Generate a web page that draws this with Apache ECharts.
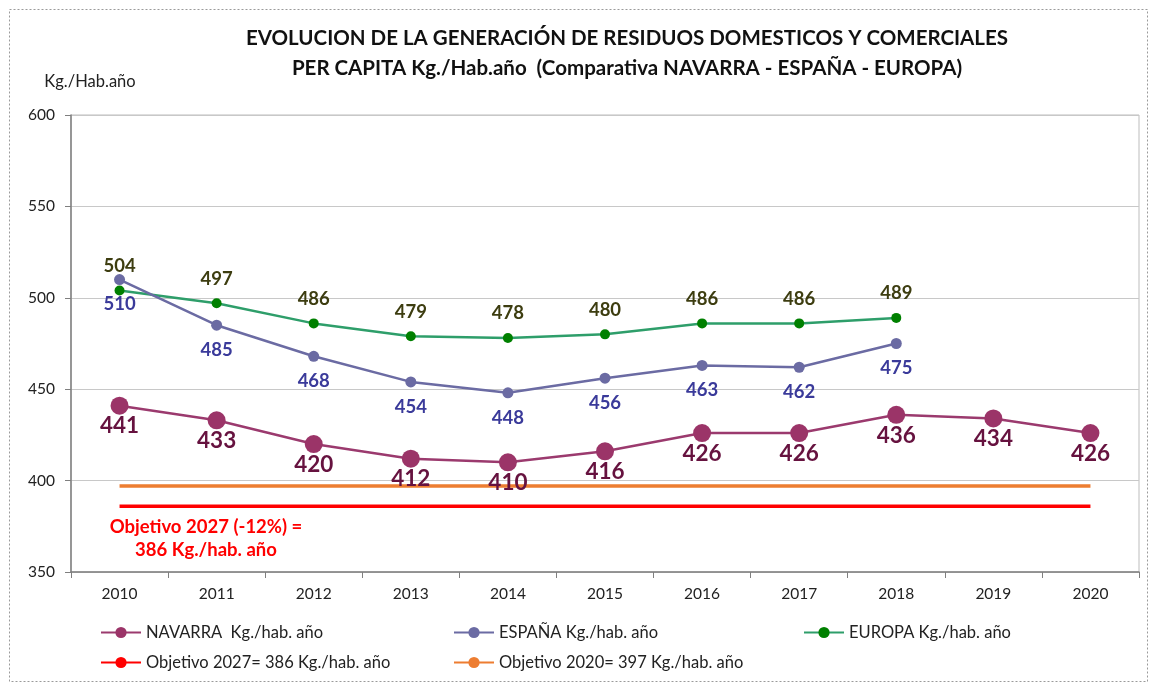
<!DOCTYPE html>
<html><head><meta charset="utf-8">
<script src="https://cdn.jsdelivr.net/npm/echarts@6/dist/echarts.min.js"></script>
<style>html,body{margin:0;padding:0;background:#fff}#c{width:1152px;height:684px}</style>
</head><body><div id="c"></div>
<script>
const years = ['2010','2011','2012','2013','2014','2015','2016','2017','2018','2019','2020'];
const navarra = [441, 433, 420, 412, 410, 416, 426, 426, 436, 434, 426];
const espana = [510, 485, 468, 454, 448, 456, 463, 462, 475];
const europa = [504, 497, 486, 479, 478, 480, 486, 486, 489];
const obj2027 = [386, 386, 386, 386, 386, 386, 386, 386, 386, 386, 386];
const obj2020 = [397, 397, 397, 397, 397, 397, 397, 397, 397, 397, 397];
const names = ['NAVARRA  Kg./hab. año','ESPAÑA Kg./hab. año','EUROPA Kg./hab. año','Objetivo 2027= 386 Kg./hab. año','Objetivo 2020= 397 Kg./hab. año'];

const FONT = 'Lato, "Open Sans", sans-serif';
const chart = echarts.init(document.getElementById('c'));
const legendBase = {itemWidth: 40, itemHeight: 14, textStyle: {fontFamily: FONT, fontSize: 16.5, color: '#222'}, selectedMode: false, padding: 0, itemGap: 0};
chart.setOption({
  animation: false,
  title: {
    text: 'EVOLUCION DE LA GENERACIÓN DE RESIDUOS DOMESTICOS Y COMERCIALES\nPER CAPITA Kg./Hab.año  (Comparativa NAVARRA - ESPAÑA - EUROPA)',
    left: 622, top: 18, textAlign: 'center',
    textStyle: {fontFamily: FONT, fontSize: 20.5, fontWeight: 'bold', color: '#111', lineHeight: 30}
  },
  grid: {left: 71, right: 13, top: 115, bottom: 112, show: true, borderColor: '#bdbdbd', borderWidth: 1, backgroundColor: '#fff'},
  legend: [
    Object.assign({data: [names[0]], left: 100, top: 624}, legendBase),
    Object.assign({data: [names[1]], left: 453, top: 624}, legendBase),
    Object.assign({data: [names[2]], left: 803, top: 624}, legendBase),
    Object.assign({data: [names[3]], left: 100, top: 654}, legendBase),
    Object.assign({data: [names[4]], left: 453, top: 654}, legendBase)
  ],
  xAxis: {
    type: 'category', data: years, boundaryGap: true,
    axisLine: {lineStyle: {color: '#7f7f7f', width: 1.5}},
    axisTick: {show: true, inside: false, length: 6, lineStyle: {color: '#7f7f7f'}},
    axisLabel: {fontFamily: FONT, fontSize: 15.5, color: '#222', margin: 14},
    splitLine: {show: false}
  },
  yAxis: {
    type: 'value', min: 350, max: 600, interval: 50,
    name: 'Kg./Hab.año', nameLocation: 'end', nameGap: 25,
    nameTextStyle: {fontFamily: FONT, fontSize: 16.5, color: '#222', align: 'center', padding: [0, 0, 0, 38]},
    axisLine: {show: true, lineStyle: {color: '#7f7f7f', width: 1.5}},
    axisTick: {show: true, length: 6, lineStyle: {color: '#7f7f7f'}},
    axisLabel: {fontFamily: FONT, fontSize: 15.5, color: '#222', margin: 16},
    splitLine: {lineStyle: {color: '#c8c8c8', width: 1}}
  },
  series: [
    {
      name: names[0], type: 'line', data: navarra, symbol: 'circle', symbolSize: 18,
      lineStyle: {color: '#9b3a6e', width: 2.5}, itemStyle: {color: '#9b3468'},
      label: {show: true, position: 'bottom', distance: 0, fontFamily: FONT, fontSize: 22.5, fontWeight: 'bold', color: '#66123f'},
      z: 5
    },
    {
      name: names[1], type: 'line', data: espana, symbol: 'circle', symbolSize: 11,
      lineStyle: {color: '#6b6ba3', width: 2.5}, itemStyle: {color: '#6b6ba3'},
      label: {show: true, position: 'bottom', distance: 10, fontFamily: FONT, fontSize: 18.5, fontWeight: 'bold', color: '#3a3a9a'},
      z: 4
    },
    {
      name: names[2], type: 'line', data: europa, symbol: 'circle', symbolSize: 10,
      lineStyle: {color: '#2e9e6a', width: 2.5}, itemStyle: {color: '#008000'},
      label: {show: true, position: 'top', distance: 10, fontFamily: FONT, fontSize: 18.5, fontWeight: 'bold', color: '#3d3d10'},
      z: 3
    },
    {
      name: names[3], type: 'line', data: obj2027, symbol: 'none', showSymbol: false,
      lineStyle: {color: '#ff0000', width: 3.5}, itemStyle: {color: '#ff0000'}, z: 2
    },
    {
      name: names[4], type: 'line', data: obj2020, symbol: 'none', showSymbol: false,
      lineStyle: {color: '#ed7d31', width: 3.5}, itemStyle: {color: '#ed7d31'}, z: 2
    }
  ],
  graphic: [
    {type: 'rect', left: 7, top: 7, shape: {width: 1138, height: 672}, silent: true, z: -10,
     style: {fill: 'none', stroke: '#9a9a9a', lineWidth: 1, lineDash: [2, 2]}},
    {type: 'text', x: 206, y: 539, style: {text: 'Objetivo 2027 (-12%) =\n386 Kg./hab. año', align: 'center', verticalAlign: 'middle', fill: '#ff0000', font: 'bold 18.5px Lato, "Open Sans", sans-serif', lineHeight: 23}, z: 10}
  ]
});
</script></body></html>
